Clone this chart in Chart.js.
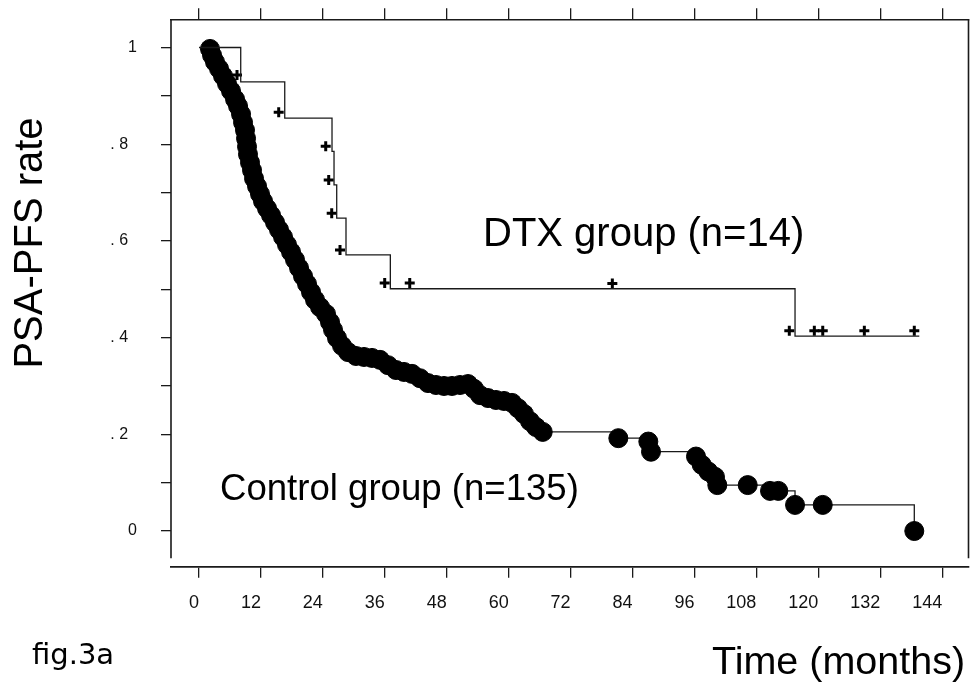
<!DOCTYPE html>
<html>
<head>
<meta charset="utf-8">
<title>fig.3a PSA-PFS</title>
<script src="https://cdn.jsdelivr.net/npm/chart.js@4.4.1/dist/chart.umd.min.js"></script>
<style>
  html, body { margin: 0; padding: 0; background: #fff; }
  #wrap { width: 970px; height: 684px; }
</style>
</head>
<body>
<div id="wrap"><canvas id="km" width="970" height="684"></canvas></div>
<script>
// control group (n=135): event times in months and PSA-PFS rate
const controlTime = [2.13, 2.52, 3.10, 3.88, 4.65, 5.43, 6.20, 6.98, 7.56, 8.14, 8.53, 8.91, 9.11, 9.30, 9.49,
  9.88, 10.27, 10.66, 11.24, 11.82, 12.40, 13.18, 13.95, 14.73, 15.50, 16.28, 17.05, 17.83, 18.60, 19.38,
  20.15, 20.93, 21.70, 22.48, 23.45, 24.61, 25.38, 25.97, 26.74, 27.71, 28.87, 30.42, 31.97, 33.52, 35.07,
  36.62, 38.17, 39.72, 41.27, 42.82, 44.37, 45.92, 47.47, 49.02, 50.57, 52.12, 53.29, 54.45, 56.00, 57.55,
  59.10, 60.65, 61.81, 62.97, 64.14, 65.30, 66.60,
  81.25, 87.06, 87.58, 96.30, 97.41, 98.69, 99.98, 100.43, 106.32, 110.64, 112.25, 115.49, 120.86, 138.60];
const controlRate = [0.997, 0.984, 0.970, 0.956, 0.941, 0.925, 0.910, 0.893, 0.879, 0.862, 0.845, 0.829, 0.812, 0.795, 0.779,
  0.762, 0.746, 0.729, 0.713, 0.697, 0.682, 0.667, 0.653, 0.638, 0.623, 0.608, 0.592, 0.577, 0.561, 0.544,
  0.527, 0.511, 0.494, 0.478, 0.463, 0.449, 0.432, 0.416, 0.399, 0.383, 0.370, 0.362, 0.360, 0.358, 0.354,
  0.343, 0.333, 0.329, 0.325, 0.316, 0.306, 0.302, 0.300, 0.300, 0.302, 0.304, 0.294, 0.281, 0.275, 0.271,
  0.269, 0.265, 0.254, 0.242, 0.227, 0.215, 0.205,
  0.192, 0.185, 0.164, 0.154, 0.137, 0.123, 0.112, 0.095, 0.095, 0.083, 0.083, 0.054, 0.054, 0.0];

// DTX group (n=14): step curve and censored marks
const dtxTime = [0, 8.08, 16.61, 25.77, 26.16, 26.68, 28.48, 37.07, 115.49, 139.57];
const dtxRate = [1.0, 0.929, 0.854, 0.785, 0.716, 0.647, 0.571, 0.501, 0.403, 0.403];
const dtxCensorTime = [7.36, 15.44, 24.55, 25.13, 25.71, 27.32, 35.98, 40.83, 80.09, 114.38, 119.23, 120.86, 128.92, 138.60];
const dtxCensorRate = [0.943, 0.866, 0.796, 0.726, 0.657, 0.581, 0.513, 0.513, 0.512, 0.414, 0.414, 0.414, 0.414, 0.414];

// axes
const xTicks = [0, 12, 24, 36, 48, 60, 72, 84, 96, 108, 120, 132, 144];
const yTicks = [0, 0.1, 0.2, 0.3, 0.4, 0.5, 0.6, 0.7, 0.8, 0.9, 1];
const yTickLabels = ['0', '', '. 2  ', '', '. 4  ', '', '. 6  ', '', '. 8  ', '', '1'];

const yTitle = 'PSA-PFS rate';
const xTitle = 'Time (months)';
const dtxLabel = 'DTX group (n=14)';
const controlLabel = 'Control group (n=135)';
const figLabel = 'fig.3a';

const ink = '#1a1a1a';
const narrow = "'Liberation Sans Narrow', 'Arial Narrow', 'Liberation Sans', sans-serif";
const sans = "'Liberation Sans', Arial, sans-serif";

const xMin = -5.43, xMax = 149.2;

const pts = (xs, ys) => xs.map((x, i) => ({x: x, y: ys[i]}));

// no auto padding from tick labels, the plot box is fixed
const noPad = s => { s.paddingTop = 0; s.paddingBottom = 0; s.paddingLeft = 0; s.paddingRight = 0; };

// frame lines and free text
const extras = {
  id: 'extras',
  afterDraw(chart) {
    const {ctx, chartArea: a} = chart;
    ctx.save();
    ctx.strokeStyle = ink;
    ctx.lineWidth = 1.6;
    ctx.beginPath();
    ctx.moveTo(a.left, a.top);
    ctx.lineTo(a.left, a.bottom - 8.5);
    ctx.moveTo(a.right - 0.5, a.top);
    ctx.lineTo(a.right - 0.5, a.bottom - 8.5);
    ctx.stroke();

    ctx.fillStyle = '#000';
    ctx.textBaseline = 'alphabetic';
    ctx.textAlign = 'left';
    ctx.font = '40px ' + sans;
    ctx.fillText(dtxLabel, 483, 246);
    ctx.font = '36.6px ' + sans;
    ctx.fillText(controlLabel, 220, 500);
    ctx.font = '39.5px ' + sans;
    ctx.fillText(xTitle, 712, 674);
    ctx.font = "29px 'DejaVu Sans', sans-serif";
    ctx.fillText(figLabel, 32, 664);

    ctx.translate(41.5, 243);
    ctx.rotate(-Math.PI / 2);
    ctx.textAlign = 'center';
    ctx.font = '40px ' + sans;
    ctx.fillText(yTitle, 0, 0);
    ctx.restore();
  }
};

new Chart(document.getElementById('km'), {
  type: 'scatter',
  data: {
    datasets: [
      {
        label: 'DTX',
        data: pts(dtxTime, dtxRate),
        showLine: true,
        stepped: true,
        borderColor: ink,
        borderWidth: 1.3,
        pointRadius: 0
      },
      {
        label: 'DTX censored',
        data: pts(dtxCensorTime, dtxCensorRate),
        showLine: false,
        pointStyle: 'cross',
        pointRadius: 5,
        pointBorderWidth: 3,
        pointBorderColor: '#000'
      },
      {
        label: 'Control',
        data: pts(controlTime, controlRate),
        showLine: true,
        stepped: true,
        borderColor: ink,
        borderWidth: 1.3,
        pointRadius: 9.5,
        pointBorderWidth: 1,
        pointBackgroundColor: '#000',
        pointBorderColor: '#000'
      }
    ]
  },
  options: {
    responsive: false,
    devicePixelRatio: 1,
    animation: false,
    layout: { autoPadding: false, padding: { top: 0, right: 1, left: 0, bottom: 0 } },
    plugins: { legend: { display: false }, tooltip: { enabled: false } },
    scales: {
      x: {
        type: 'linear',
        position: 'bottom',
        min: xMin,
        max: xMax,
        afterBuildTicks: s => { s.ticks = xTicks.map(v => ({value: v})); },
        afterFit: s => { s.height = 117.3; noPad(s); },
        ticks: {
          align: 'end',
          padding: 15,
          maxRotation: 0,
          autoSkip: false,
          color: '#111',
          font: { family: narrow, size: 18 },
          callback: v => String(v)
        },
        grid: { drawOnChartArea: false, drawTicks: true, tickLength: 11, color: ink, lineWidth: 1.3 },
        border: { display: true, color: ink, width: 1.8 }
      },
      x2: {
        type: 'linear',
        position: 'top',
        min: xMin,
        max: xMax,
        afterBuildTicks: s => { s.ticks = xTicks.map(v => ({value: v})); },
        afterFit: s => { s.height = 19.3; noPad(s); },
        ticks: { display: false },
        grid: { drawOnChartArea: false, drawTicks: true, tickLength: 11, color: ink, lineWidth: 1.3 },
        border: { display: true, color: ink, width: 1.6 }
      },
      y: {
        type: 'linear',
        position: 'left',
        min: -0.0738,
        max: 1.0583,
        afterBuildTicks: s => { s.ticks = yTicks.map(v => ({value: v})); },
        afterFit: s => { s.width = 171; noPad(s); },
        ticks: {
          padding: 24,
          autoSkip: false,
          color: '#111',
          font: { family: narrow, size: 16 },
          callback: (v, i) => yTickLabels[i]
        },
        grid: { drawOnChartArea: false, drawTicks: true, tickLength: 10, color: ink, lineWidth: 1.3 },
        border: { display: false }
      }
    }
  },
  plugins: [extras]
});
</script>
</body>
</html>
